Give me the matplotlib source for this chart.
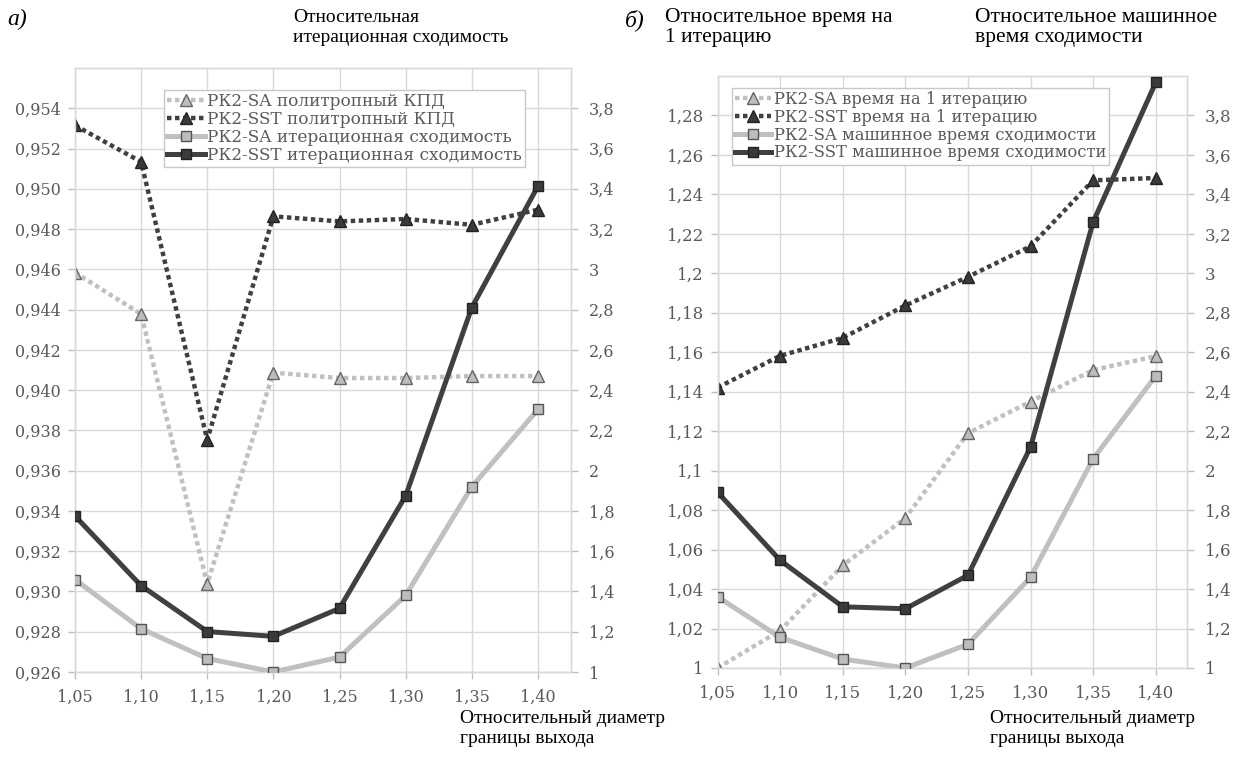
import matplotlib
matplotlib.use("Agg")
import matplotlib.pyplot as plt
import numpy as np

# Relative outlet-boundary diameter (category axis)
diameters = ["1,05", "1,10", "1,15", "1,20", "1,25", "1,30", "1,35", "1,40"]

# Panel a: polytropic efficiency (left axis) and relative iteration convergence (right axis)
sa_eff = [0.94584, 0.94378, 0.93038, 0.94087, 0.9406, 0.9406, 0.9407, 0.9407]
sst_eff = [0.95315, 0.95134, 0.93753, 0.94863, 0.94838, 0.9485, 0.94821, 0.94896]
sa_conv = [1.459, 1.215, 1.067, 1.0, 1.074, 1.38, 1.92, 2.304]
sst_conv = [1.775, 1.429, 1.201, 1.177, 1.316, 1.875, 2.81, 3.413]

# Panel b: relative time per iteration (left axis) and relative machine time to convergence (right axis)
sa_iter_time = [1.0, 1.019, 1.052, 1.076, 1.119, 1.135, 1.151, 1.158]
sst_iter_time = [1.1421, 1.1582, 1.1673, 1.1837, 1.1982, 1.2137, 1.2471, 1.2483]
sa_machine = [1.36, 1.155, 1.045, 1.0, 1.12, 1.46, 2.06, 2.48]
sst_machine = [1.89, 1.545, 1.31, 1.30, 1.47, 2.12, 3.26, 3.967]

left_a_ticks = [0.926, 0.928, 0.930, 0.932, 0.934, 0.936, 0.938, 0.940,
                0.942, 0.944, 0.946, 0.948, 0.950, 0.952, 0.954]
right_ticks = [1.0, 1.2, 1.4, 1.6, 1.8, 2.0, 2.2, 2.4, 2.6, 2.8, 3.0, 3.2, 3.4, 3.6, 3.8]
left_b_ticks = [1.0, 1.02, 1.04, 1.06, 1.08, 1.10, 1.12, 1.14, 1.16, 1.18,
                1.20, 1.22, 1.24, 1.26, 1.28]

legend_a = ["РК2-SA политропный КПД", "РК2-SST политропный КПД",
            "РК2-SA итерационная сходимость", "РК2-SST итерационная сходимость"]
legend_b = ["РК2-SA время на 1 итерацию", "РК2-SST время на 1 итерацию",
            "РК2-SA машинное время сходимости", "РК2-SST машинное время сходимости"]

DARK_LINE = "#404040"
DARK_FACE = "#3a3a3a"
LIGHT_LINE = "#c0c0c0"
LIGHT_FACE = "#bdbdbd"
GRID = "#d9d9d9"
TICK_TXT = "#595959"
TICK_FONT = "DejaVu Serif"
TITLE_FONT = "Liberation Serif"


def fmt_fixed(v):
    return f"{v:.3f}".replace(".", ",")


def fmt_general(v):
    s = f"{v:.2f}".rstrip("0").rstrip(".")
    return s.replace(".", ",")


def style_axes(ax, ax2, tick_size):
    for a in (ax, ax2):
        for sp in a.spines.values():
            sp.set_color(GRID)
            sp.set_linewidth(1.0)
        a.tick_params(colors="#bfbfbf", labelcolor=TICK_TXT, length=5, width=1,
                      labelsize=tick_size)
        for lab in a.get_yticklabels() + a.get_xticklabels():
            lab.set_fontfamily(TICK_FONT)
    ax.grid(True, color=GRID, linewidth=1.0)
    ax.set_axisbelow(True)
    ax.tick_params(axis="x", pad=7)
    ax.tick_params(axis="y", pad=5)
    ax2.tick_params(axis="y", pad=8)


def draw_panel(rect, left_a, left_b, right_a, right_b, ylim, yticks, yfmt,
               labels, legend_bbox, tick_size, legend_size):
    ax = fig.add_axes(rect)
    ax2 = ax.twinx()
    x = np.arange(len(diameters))
    dot = (0, (1.0, 0.8))
    h1, = ax.plot(x, left_a, color=LIGHT_LINE, lw=3.2, linestyle=dot,
                  dash_capstyle="butt", marker="^", ms=8.5, mfc=LIGHT_FACE,
                  mec="#666666", mew=1.0, zorder=3)
    h2, = ax.plot(x, left_b, color=DARK_LINE, lw=3.2, linestyle=dot,
                  dash_capstyle="butt", marker="^", ms=8.5, mfc=DARK_FACE,
                  mec="#222222", mew=1.0, zorder=3)
    h3, = ax2.plot(x, right_a, color=LIGHT_LINE, lw=3.6, marker="s", ms=7.5,
                   mfc=LIGHT_FACE, mec="#555555", mew=1.0, zorder=3)
    h4, = ax2.plot(x, right_b, color=DARK_LINE, lw=3.6, marker="s", ms=7.5,
                   mfc=DARK_FACE, mec="#222222", mew=1.0, zorder=3)

    ax.set_xlim(0, len(diameters) - 0.5)
    ax.set_xticks(x)
    ax.set_xticklabels(diameters)
    ax.set_ylim(*ylim)
    ax.set_yticks(yticks)
    ax.set_yticklabels([yfmt(v) for v in yticks])
    ax2.set_ylim(1.0, 4.0)
    ax2.set_yticks(right_ticks)
    ax2.set_yticklabels([fmt_general(v) for v in right_ticks])
    style_axes(ax, ax2, tick_size)

    leg = ax2.legend([h1, h2, h3, h4], labels, loc="upper left",
                     bbox_to_anchor=legend_bbox, bbox_transform=fig.transFigure,
                     prop={"family": TICK_FONT, "size": legend_size}, frameon=True,
                     fancybox=False, edgecolor="#c8c8c8", framealpha=1.0,
                     handlelength=2.2, handletextpad=0.15, borderpad=0.2,
                     labelspacing=0.05, borderaxespad=0)
    for t in leg.get_texts():
        t.set_color(TICK_TXT)
    leg.get_frame().set_linewidth(1.0)
    return ax, ax2


fig = plt.figure(figsize=(12.47, 7.62), dpi=100)

draw_panel([0.0601, 0.1181, 0.3978, 0.7927], sa_eff, sst_eff, sa_conv, sst_conv,
           (0.926, 0.956), left_a_ticks, fmt_fixed, legend_a, (0.1315, 0.882),
           11.5, 12.2)
draw_panel([0.5755, 0.1234, 0.3764, 0.7769], sa_iter_time, sst_iter_time,
           sa_machine, sst_machine, (1.0, 1.30), left_b_ticks, fmt_general,
           legend_b, (0.5868, 0.885), 12, 11.8)

title_a = dict(family=TITLE_FONT, fontsize=14, color="black", va="top",
               linespacing=1.25)
title_b = dict(family=TITLE_FONT, fontsize=15.5, color="black", va="top",
               linespacing=1.1)
fig.text(0.006, 0.988, "а)", family=TITLE_FONT, fontsize=17, style="italic", va="top")
fig.text(0.235, 0.988, "Относительная\nитерационная сходимость", **title_a)
fig.text(0.369, 0.068, "Относительный диаметр\nграницы выхода", **title_a)

fig.text(0.501, 0.988, "б)", family=TITLE_FONT, fontsize=17, style="italic", va="top")
fig.text(0.533, 0.990, "Относительное время на\n1 итерацию", **title_b)
fig.text(0.782, 0.990, "Относительное машинное\nвремя сходимости", **title_b)
fig.text(0.794, 0.068, "Относительный диаметр\nграницы выхода", **title_a)

fig.savefig("out.png", dpi=100, facecolor="white")
